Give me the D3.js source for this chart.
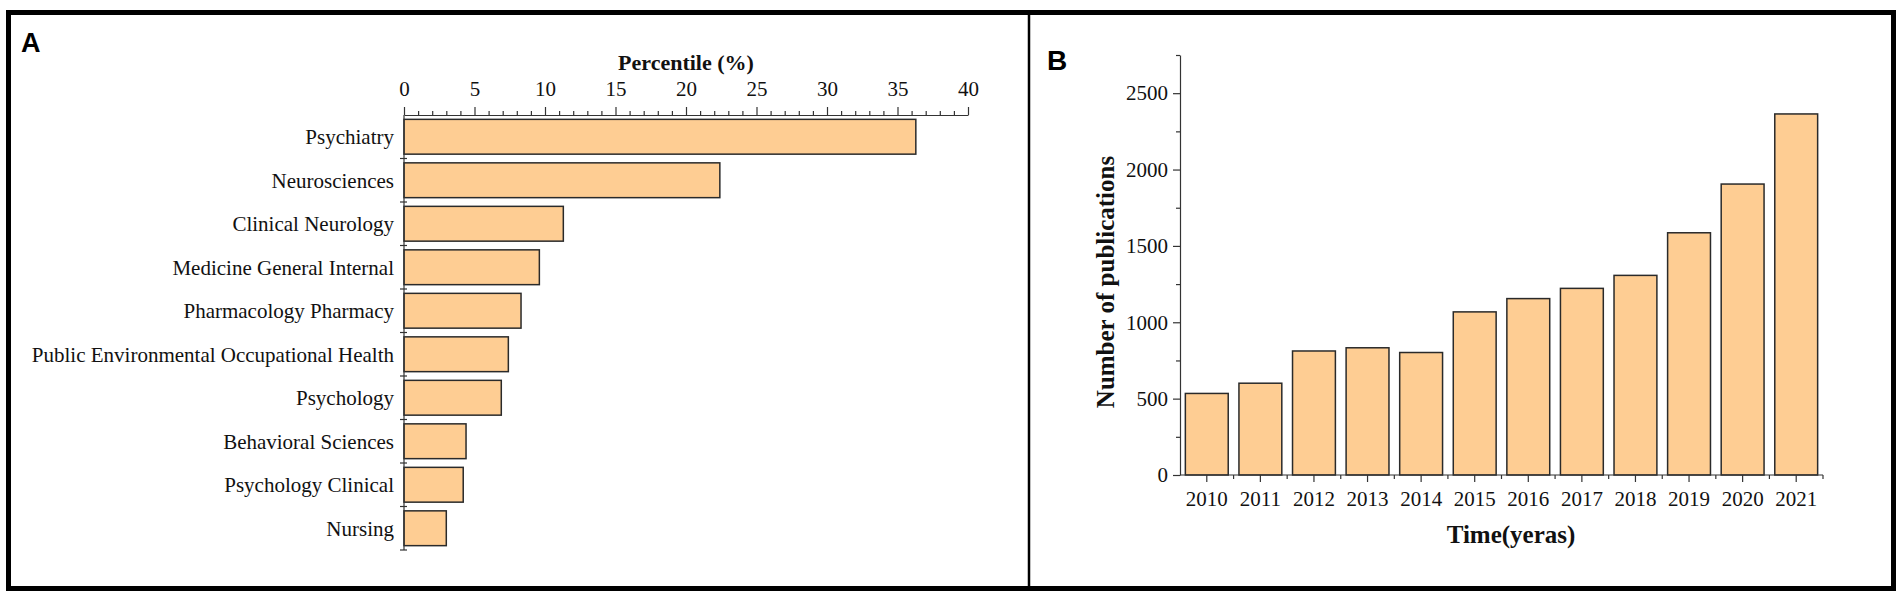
<!DOCTYPE html>
<html>
<head>
<meta charset="utf-8">
<script src="https://cdn.jsdelivr.net/npm/d3@7"></script>
<style>
  html, body { margin: 0; padding: 0; background: #fff; }
  svg text { font-family: "Liberation Serif", "Times New Roman", serif; fill: #111; }
  .panel-tag { font-family: "Liberation Sans", Arial, sans-serif; font-weight: bold; fill: #000; }
  .axis path, .axis line { stroke: #333; stroke-width: 1.2; }
  .bar { fill: #fecd93; stroke: #2a2a2a; stroke-width: 1.5; }
</style>
</head>
<body>
<div id="chart"></div>
<script>
// panel A data: subject categories and their share
var categories = ["Psychiatry", "Neurosciences", "Clinical Neurology", "Medicine General Internal",
  "Pharmacology Pharmacy", "Public Environmental Occupational Health", "Psychology",
  "Behavioral Sciences", "Psychology Clinical", "Nursing"];
var percentiles = [36.3, 22.4, 11.3, 9.6, 8.3, 7.4, 6.9, 4.4, 4.2, 3.0];
var percentTicks = [0, 5, 10, 15, 20, 25, 30, 35, 40];

// panel B data: publications per year
var years = ["2010", "2011", "2012", "2013", "2014", "2015", "2016", "2017", "2018", "2019", "2020", "2021"];
var publications = [534, 601, 812, 833, 802, 1068, 1155, 1222, 1307, 1586, 1905, 2364];
var pubTicks = [0, 500, 1000, 1500, 2000, 2500];

var W = 1904, H = 596;
var svg = d3.select("#chart").append("svg")
  .attr("width", W)
  .attr("height", H);

// frame and divider
svg.append("rect")
  .attr("x", 8.5).attr("y", 12.5)
  .attr("width", 1885).attr("height", 576)
  .attr("fill", "none").attr("stroke", "#000").attr("stroke-width", 5);
svg.append("line")
  .attr("x1", 1029).attr("x2", 1029).attr("y1", 12).attr("y2", 588)
  .attr("stroke", "#000").attr("stroke-width", 2.5);

svg.append("text").attr("class", "panel-tag").attr("x", 21).attr("y", 52)
  .style("font-size", "27px").text("A");
svg.append("text").attr("class", "panel-tag").attr("x", 1047).attr("y", 70)
  .style("font-size", "28px").text("B");

// ---------- panel A ----------
var xA = d3.scaleLinear().domain([0, 40]).range([404, 968]);
var yA = d3.scaleBand().domain(categories).range([115, 550]).paddingInner(0.2).paddingOuter(0.1);

var gA = svg.append("g");

gA.selectAll(".bar")
  .data(percentiles)
  .enter().append("rect")
  .attr("class", "bar")
  .attr("x", xA(0))
  .attr("y", function (d, i) { return yA(categories[i]); })
  .attr("width", function (d) { return xA(d) - xA(0); })
  .attr("height", yA.bandwidth());

// top axis, major + minor ticks
var minorA = d3.range(0, 41).filter(function (v) { return v % 5 !== 0; });
gA.append("g")
  .attr("class", "axis")
  .attr("transform", "translate(0,115)")
  .call(d3.axisTop(xA).tickValues(minorA).tickSize(4).tickSizeOuter(0).tickFormat(""))
  .select(".domain").remove();
var topAxis = gA.append("g")
  .attr("class", "axis")
  .attr("transform", "translate(0,115)")
  .call(d3.axisTop(xA).tickValues(percentTicks).tickSize(8).tickSizeOuter(0).tickPadding(11));
topAxis.selectAll("text").style("font-size", "21px");

// left axis: plain line with ticks at band edges
var stepA = yA.step();
var edgesA = d3.range(0, categories.length + 1).map(function (i) { return 115 + i * stepA; });
gA.append("line")
  .attr("x1", xA(0)).attr("x2", xA(0)).attr("y1", 115).attr("y2", 550)
  .attr("stroke", "#333").attr("stroke-width", 1.2);
gA.selectAll(".edge")
  .data(edgesA.slice(1))
  .enter().append("line")
  .attr("x1", xA(0) - 4).attr("x2", xA(0) + 3)
  .attr("y1", function (d) { return d; }).attr("y2", function (d) { return d; })
  .attr("stroke", "#333").attr("stroke-width", 1.2);

gA.selectAll(".cat")
  .data(categories)
  .enter().append("text")
  .attr("x", xA(0) - 10)
  .attr("y", function (d) { return yA(d) + yA.bandwidth() / 2; })
  .attr("dy", "0.35em")
  .attr("text-anchor", "end")
  .style("font-size", "21px")
  .text(function (d) { return d; });

gA.append("text")
  .attr("x", (xA(0) + xA(40)) / 2)
  .attr("y", 70)
  .attr("text-anchor", "middle")
  .style("font-size", "22px")
  .style("font-weight", "bold")
  .text("Percentile (%)");

// ---------- panel B ----------
var xB = d3.scaleBand().domain(years).range([1180, 1823]).paddingInner(0.2).paddingOuter(0.1);
var yB = d3.scaleLinear().domain([0, 2750]).range([475, 55]);

var gB = svg.append("g");

gB.selectAll(".bar")
  .data(publications)
  .enter().append("rect")
  .attr("class", "bar")
  .attr("x", function (d, i) { return xB(years[i]); })
  .attr("y", function (d) { return yB(d); })
  .attr("width", xB.bandwidth())
  .attr("height", function (d) { return yB(0) - yB(d); });

// y axis
var minorB = d3.range(250, 2751, 500);
gB.append("g")
  .attr("class", "axis")
  .attr("transform", "translate(1180,0)")
  .call(d3.axisLeft(yB).tickValues(minorB).tickSize(4).tickSizeOuter(0).tickFormat(""))
  .select(".domain").remove();
var leftAxis = gB.append("g")
  .attr("class", "axis")
  .attr("transform", "translate(1180,0)")
  .call(d3.axisLeft(yB).tickValues(pubTicks).tickSize(7).tickSizeOuter(0).tickPadding(5).tickFormat(d3.format("d")));
leftAxis.selectAll("text").style("font-size", "21px");

// x axis
var stepB = xB.step();
var edgesB = d3.range(0, years.length + 1).map(function (i) { return 1180 + i * stepB; });
gB.append("line")
  .attr("x1", 1180).attr("x2", 1823).attr("y1", yB(0)).attr("y2", yB(0))
  .attr("stroke", "#333").attr("stroke-width", 1.2);
gB.selectAll(".edge")
  .data(edgesB.slice(1))
  .enter().append("line")
  .attr("x1", function (d) { return d; }).attr("x2", function (d) { return d; })
  .attr("y1", yB(0)).attr("y2", yB(0) + 4)
  .attr("stroke", "#333").attr("stroke-width", 1.2);
var bottomAxis = gB.append("g")
  .attr("class", "axis")
  .attr("transform", "translate(0," + yB(0) + ")")
  .call(d3.axisBottom(xB).tickSize(7).tickSizeOuter(0).tickPadding(9));
bottomAxis.select(".domain").remove();
bottomAxis.selectAll("text").style("font-size", "21px");

gB.append("text")
  .attr("x", 1511)
  .attr("y", 543)
  .attr("text-anchor", "middle")
  .style("font-size", "25px")
  .style("font-weight", "bold")
  .text("Time(yeras)");

gB.append("text")
  .attr("transform", "translate(1114,282) rotate(-90)")
  .attr("text-anchor", "middle")
  .style("font-size", "25px")
  .style("font-weight", "bold")
  .text("Number of publications");
</script>
</body>
</html>
